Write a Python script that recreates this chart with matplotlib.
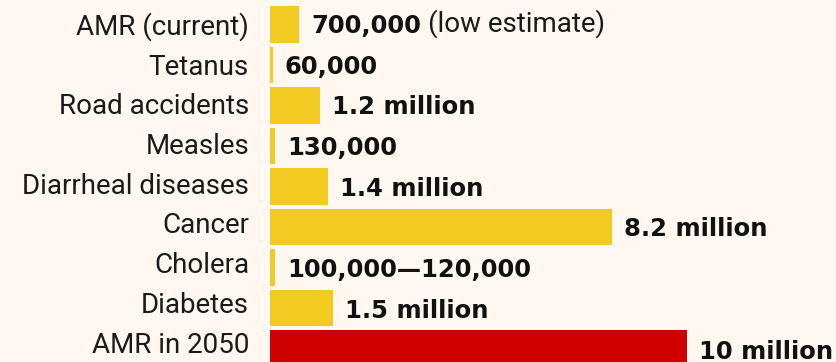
import matplotlib
matplotlib.use('Agg')
import matplotlib.pyplot as plt
import matplotlib.transforms as mtransforms

causes = ['AMR (current)', 'Tetanus', 'Road accidents', 'Measles', 'Diarrheal diseases',
          'Cancer', 'Cholera', 'Diabetes', 'AMR in 2050']
deaths_m = [0.7, 0.06, 1.2, 0.13, 1.4, 8.2, 0.12, 1.5, 10.0]  # millions per year
value_labels = ['700,000', '60,000', '1.2 million', '130,000', '1.4 million',
                '8.2 million', '100,000\u2014120,000', '1.5 million', '10 million']
notes = {0: '(low estimate)'}

BG = '#fef8f1'
YELLOW = '#f2ca22'
RED = '#cf0000'
colors = [YELLOW] * (len(causes) - 1) + [RED]

plt.rcParams['font.family'] = ['Roboto', 'DejaVu Sans']

fig = plt.figure(figsize=(8.36, 3.62), dpi=100, facecolor=BG)
ax = fig.add_axes([270 / 836, 0, 566 / 836, 1])
ax.set_facecolor(BG)

rows = list(range(len(causes)))
ax.barh(rows, deaths_m, height=0.905, color=colors)

ax.set_xlim(0, 566 / 41.67)
ax.set_ylim((362 - 24.4) / 40.5, -24.4 / 40.5)
ax.set_xticks([])
ax.set_yticks([])
for s in ax.spines.values():
    s.set_visible(False)

# category names, right aligned a little left of the bars
name_tf = mtransforms.offset_copy(ax.get_yaxis_transform(), fig=fig, x=-21, y=0, units='dots')
for i, name in enumerate(causes):
    ax.text(0, 0.262 + 0.98 * i, name, transform=name_tf, ha='right', va='baseline',
            fontsize=20, color='#1a1a1a')

# bold figures next to each bar, with an optional plain-weight note after them
for i, (v, lab) in enumerate(zip(deaths_m, value_labels)):
    t = ax.annotate(lab, xy=(v, 0.212 + 1.005 * i), xytext=(12, 0), textcoords='offset pixels',
                    ha='left', va='baseline', fontsize=17.5, fontweight='bold',
                    family='DejaVu Sans', color='#111111', annotation_clip=False)
    if i in notes:
        ax.annotate(notes[i], xy=(1, 0), xycoords=t, xytext=(7, 0),
                    textcoords='offset pixels', ha='left', va='bottom',
                    fontsize=20, color='#1a1a1a')

fig.savefig('out.png', dpi=100, facecolor=BG)
